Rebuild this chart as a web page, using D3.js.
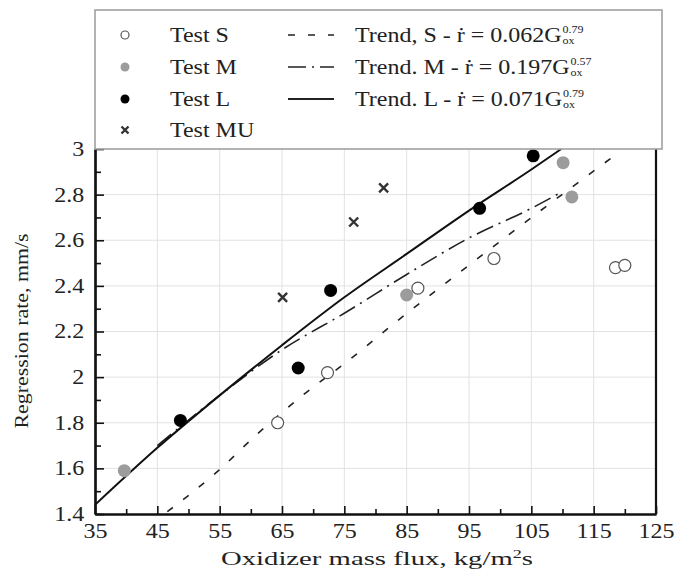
<!DOCTYPE html>
<html>
<head>
<meta charset="utf-8">
<script src="https://cdn.jsdelivr.net/npm/d3@7/dist/d3.min.js"></script>
<style>
  body { margin: 0; background: #fff; }
  svg { display: block; }
  text { font-family: "Liberation Serif", "Times New Roman", serif; fill: #222; }
</style>
</head>
<body>
<div id="chart"></div>
<script>
// data
var sG = [64.3, 72.3, 86.8, 99.0, 118.5, 120.0];
var sR = [1.80, 2.02, 2.39, 2.52, 2.48, 2.49];
var mG = [39.7, 85.0, 110.1, 111.5];
var mR = [1.59, 2.36, 2.94, 2.79];
var lG = [48.7, 67.6, 72.8, 96.7, 105.3];
var lR = [1.81, 2.04, 2.38, 2.74, 2.97];
var muG = [65.1, 76.5, 81.3];
var muR = [2.35, 2.68, 2.83];

// trend curves
var trendSG = [46.6, 54.8, 61, 68.3, 76, 83.2, 94.5, 106, 117.8];
var trendSR = [1.41, 1.59, 1.75, 1.92, 2.08, 2.24, 2.48, 2.72, 2.96];
var trendMG = [45, 55, 65, 75, 85, 95, 105, 109.8];
var trendMR = [1.70, 1.92, 2.12, 2.28, 2.45, 2.61, 2.74, 2.81];
var trendLG = [35, 45, 55, 65, 75, 85, 95, 105, 109.8];
var trendLR = [1.44, 1.69, 1.92, 2.14, 2.35, 2.54, 2.73, 2.91, 3.0];

var xTicks = [35, 45, 55, 65, 75, 85, 95, 105, 115, 125];
var yTicks = [1.4, 1.6, 1.8, 2, 2.2, 2.4, 2.6, 2.8, 3];
var xMinor = [40, 50, 60, 70, 80, 90, 100, 110, 120];
var yMinor = [1.5, 1.7, 1.9, 2.1, 2.3, 2.5, 2.7, 2.9];

var legendTests = ["Test S", "Test M", "Test L", "Test MU"];
var legendTrends = ["Trend, S - ṙ = 0.062G", "Trend. M - ṙ = 0.197G", "Trend. L - ṙ = 0.071G"];
var legendExp = ["0.79", "0.57", "0.79"];

var width = 678, height = 570;
var sx = 1.2; // the source type is stretched sideways

var svg = d3.select('#chart').append('svg')
    .attr('width', width)
    .attr('height', height);

var x = d3.scaleLinear().domain([35, 125]).range([95, 656]);
var y = d3.scaleLinear().domain([1.4, 3]).range([514, 149]);

// grid
svg.append('g').selectAll('line')
  .data(xTicks.slice(1, -1)).enter().append('line')
  .attr('x1', d => x(d)).attr('x2', d => x(d))
  .attr('y1', y(3)).attr('y2', y(1.4))
  .attr('stroke', '#e2e2e2').attr('stroke-width', 1);
svg.append('g').selectAll('line')
  .data(yTicks.slice(1, -1)).enter().append('line')
  .attr('x1', x(35)).attr('x2', x(125))
  .attr('y1', d => y(d)).attr('y2', d => y(d))
  .attr('stroke', '#e2e2e2').attr('stroke-width', 1);

// trend lines
function pts(gs, rs) { return gs.map((g, i) => [g, rs[i]]); }
var line = d3.line().x(d => x(d[0])).y(d => y(d[1])).curve(d3.curveMonotoneX);

svg.append('path').datum(pts(trendSG, trendSR))
  .attr('d', line).attr('fill', 'none')
  .attr('stroke', '#222').attr('stroke-width', 1.6)
  .attr('stroke-dasharray', '7,13');
svg.append('path').datum(pts(trendMG, trendMR))
  .attr('d', line).attr('fill', 'none')
  .attr('stroke', '#222').attr('stroke-width', 1.6)
  .attr('stroke-dasharray', '18,6,2,6');
svg.append('path').datum(pts(trendLG, trendLR))
  .attr('d', line).attr('fill', 'none')
  .attr('stroke', '#111').attr('stroke-width', 2);

// axes
var xAxis = svg.append('g')
  .attr('transform', `translate(0,${y(1.4)})`)
  .call(d3.axisBottom(x).tickValues(xTicks).tickSizeInner(-8).tickSizeOuter(0).tickPadding(10));
var xAxisMinor = svg.append('g')
  .attr('transform', `translate(0,${y(1.4)})`)
  .call(d3.axisBottom(x).tickValues(xMinor).tickSizeInner(-5).tickSizeOuter(0).tickFormat(''));
var yAxis = svg.append('g')
  .attr('transform', `translate(${x(35)},0)`)
  .call(d3.axisLeft(y).tickValues(yTicks).tickFormat(d3.format('~g')).tickSizeInner(-9).tickSizeOuter(0).tickPadding(9));
var yAxisMinor = svg.append('g')
  .attr('transform', `translate(${x(35)},0)`)
  .call(d3.axisLeft(y).tickValues(yMinor).tickSizeInner(-6).tickSizeOuter(0).tickFormat(''));

[xAxis, xAxisMinor, yAxis, yAxisMinor].forEach(function(a) {
  a.attr('font-family', null);
  a.select('.domain').attr('stroke', '#111').attr('stroke-width', 2.2);
  a.selectAll('.tick line').attr('stroke', '#111').attr('stroke-width', 1.6);
  a.selectAll('text')
    .style('font-family', '"Liberation Serif", serif')
    .style('font-size', '20px')
    .attr('fill', '#2a2a2a')
    .attr('transform', `scale(${sx},1)`);
});

// right frame
svg.append('line')
  .attr('x1', x(125)).attr('x2', x(125))
  .attr('y1', y(3)).attr('y2', y(1.4))
  .attr('stroke', '#111').attr('stroke-width', 2.2);

// points
function circles(gs, rs, r, fill, stroke) {
  svg.append('g').selectAll('circle')
    .data(pts(gs, rs)).enter().append('circle')
    .attr('cx', d => x(d[0])).attr('cy', d => y(d[1]))
    .attr('r', r).attr('fill', fill)
    .attr('stroke', stroke).attr('stroke-width', 1.2);
}
circles(sG, sR, 6, '#fff', '#555');
circles(mG, mR, 6.5, '#9c9c9c', 'none');
circles(lG, lR, 6.5, '#000', 'none');

function cross(sel, s) {
  sel.append('path')
    .attr('d', `M${-s},${-s}L${s},${s}M${-s},${s}L${s},${-s}`)
    .attr('stroke', '#333').attr('stroke-width', 2.4).attr('fill', 'none');
}
svg.append('g').selectAll('g')
  .data(pts(muG, muR)).enter().append('g')
  .attr('transform', d => `translate(${x(d[0])},${y(d[1])})`)
  .each(function() { cross(d3.select(this), 4.5); });

// legend
var legend = svg.append('g');
legend.append('rect')
  .attr('x', 95).attr('y', 10).attr('width', 567).attr('height', y(3) - 10)
  .attr('fill', '#fff').attr('stroke', '#a0a0a0').attr('stroke-width', 1.6);

var rowY = [35, 67, 99, 130];

function stretchText(g, tx, ty, str, size) {
  return g.append('text')
    .attr('transform', `translate(${tx},${ty}) scale(${sx},1)`)
    .style('font-size', size + 'px')
    .text(str);
}

legend.append('circle').attr('cx', 125).attr('cy', rowY[0]).attr('r', 4)
  .attr('fill', '#fff').attr('stroke', '#555').attr('stroke-width', 1.2);
legend.append('circle').attr('cx', 125).attr('cy', rowY[1]).attr('r', 4.5)
  .attr('fill', '#9c9c9c');
legend.append('circle').attr('cx', 125).attr('cy', rowY[2]).attr('r', 4.5)
  .attr('fill', '#000');
cross(legend.append('g').attr('transform', `translate(125,${rowY[3]})`), 3.5);

legendTests.forEach(function(t, i) {
  stretchText(legend, 170, rowY[i] + 7, t, 20);
});

var dashes = ['7,13', '18,6,2,6', null];
legendTrends.forEach(function(t, i) {
  var ln = legend.append('line')
    .attr('x1', 288).attr('x2', 334)
    .attr('y1', rowY[i]).attr('y2', rowY[i])
    .attr('stroke', '#222').attr('stroke-width', i == 2 ? 2 : 1.6);
  if (dashes[i]) ln.attr('stroke-dasharray', dashes[i]);

  var txt = stretchText(legend, 355, rowY[i] + 7, t, 20);
  var w = txt.node().getComputedTextLength() * sx;
  stretchText(legend, 355 + w + 1, rowY[i] - 2, legendExp[i], 10);
  stretchText(legend, 355 + w + 1, rowY[i] + 9, 'ox', 10);
});

// axis titles
svg.append('text')
  .attr('x', 377).attr('y', 565)
  .attr('text-anchor', 'middle')
  .attr('textLength', 312).attr('lengthAdjust', 'spacingAndGlyphs')
  .style('font-size', '19px')
  .html('Oxidizer mass flux, kg/m<tspan font-size="12" dy="-7">2</tspan><tspan dy="7">s</tspan>');

svg.append('text')
  .attr('transform', 'translate(28,331) rotate(-90)')
  .attr('text-anchor', 'middle')
  .attr('textLength', 195).attr('lengthAdjust', 'spacingAndGlyphs')
  .style('font-size', '19px')
  .text('Regression rate, mm/s');
</script>
</body>
</html>
